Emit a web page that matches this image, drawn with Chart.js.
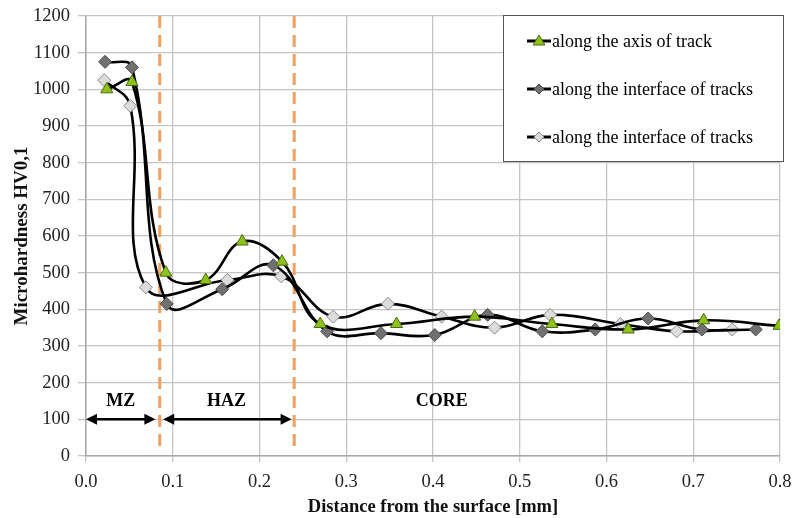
<!DOCTYPE html>
<html>
<head>
<meta charset="utf-8">
<script src="https://cdn.jsdelivr.net/npm/chart.js@4.4.1/dist/chart.umd.min.js"></script>
<style>
html,body{margin:0;padding:0;background:#fff;overflow:hidden;}
#wrap{position:relative;width:792px;height:518px;}
</style>
</head>
<body>
<div id="wrap"><canvas id="c"></canvas></div>
<script>
// ---- data ----
const seriesNames = ["along the axis of track", "along the interface of tracks", "along the interface of tracks"];
const axisX = [0.024, 0.053, 0.092, 0.138, 0.180, 0.226, 0.270, 0.358, 0.448, 0.537, 0.625, 0.712, 0.799];
const axisY = [1000, 1020, 500, 480, 585, 530, 360, 360, 380, 360, 345, 370, 355];
const iface1X = [0.022, 0.053, 0.093, 0.157, 0.216, 0.278, 0.340, 0.402, 0.463, 0.526, 0.587, 0.648, 0.710, 0.772];
const iface1Y = [1075, 1060, 415, 455, 520, 340, 335, 330, 385, 340, 345, 375, 345, 345];
const iface2X = [0.021, 0.051, 0.069, 0.163, 0.225, 0.285, 0.348, 0.410, 0.471, 0.535, 0.616, 0.681, 0.745];
const iface2Y = [1025, 955, 460, 480, 490, 380, 415, 380, 350, 385, 360, 340, 345];
const xRange = [0, 0.8], xStep = 0.1;
const yRange = [0, 1200], yStep = 100;
const zoneBoundaries = [0.085, 0.24];
const zoneArrows = [[0.0, 0.08], [0.089, 0.237]];
const arrowLevel = 100;
const zoneLabels = ["MZ", "HAZ", "CORE"];
const zoneLabelX = [0.04, 0.162, 0.41];
const zoneLabelY = 150;
const xTitle = "Distance from the surface [mm]";
const yTitle = "Microhardness HV0,1";

const pts = (xs, ys) => xs.map((x, i) => ({x: x, y: ys[i]}));

const SERIF = "'Liberation Serif', 'Times New Roman', serif";
const styles = [
  {pointStyle: 'triangle', bg: '#8cc21a', border: '#4d6b10', radius: 7},
  {pointStyle: 'rectRot', bg: '#707070', border: '#4a4a4a', radius: 6.5},
  {pointStyle: 'rectRot', bg: '#dcdcdc', border: '#8a8a8a', radius: 6.5}
];
const seriesData = [pts(axisX, axisY), pts(iface1X, iface1Y), pts(iface2X, iface2Y)];

const annotPlugin = {
  id: 'annot',
  beforeDatasetsDraw(chart) {
    const {ctx, chartArea: a, scales: {x, y}} = chart;
    ctx.save();
    // dashed orange zone boundaries
    ctx.strokeStyle = '#f4a05c';
    ctx.lineWidth = 3;
    ctx.setLineDash([12, 7]);
    zoneBoundaries.forEach(v => {
      const px = x.getPixelForValue(v);
      ctx.beginPath();
      ctx.moveTo(px, a.top);
      ctx.lineTo(px, a.bottom - 4);
      ctx.stroke();
    });
    ctx.setLineDash([]);
    // arrows
    ctx.strokeStyle = '#000';
    ctx.fillStyle = '#000';
    ctx.lineWidth = 2.5;
    const py = y.getPixelForValue(arrowLevel);
    zoneArrows.forEach(([a0, a1]) => {
      const p0 = x.getPixelForValue(a0), p1 = x.getPixelForValue(a1);
      ctx.beginPath();
      ctx.moveTo(p0 + 8, py); ctx.lineTo(p1 - 8, py); ctx.stroke();
      ctx.beginPath();
      ctx.moveTo(p0, py); ctx.lineTo(p0 + 11, py - 5.5); ctx.lineTo(p0 + 11, py + 5.5); ctx.closePath(); ctx.fill();
      ctx.beginPath();
      ctx.moveTo(p1, py); ctx.lineTo(p1 - 11, py - 5.5); ctx.lineTo(p1 - 11, py + 5.5); ctx.closePath(); ctx.fill();
    });
    // zone labels
    ctx.font = "bold 18px " + SERIF;
    ctx.textAlign = 'center';
    ctx.textBaseline = 'middle';
    zoneLabels.forEach((t, i) => {
      ctx.fillText(t, x.getPixelForValue(zoneLabelX[i]), y.getPixelForValue(zoneLabelY));
    });
    ctx.restore();
  },
  afterDraw(chart) {
    const {ctx} = chart;
    // legend box
    const bx = 503, by = 15, bw = 280, bh = 146;
    ctx.save();
    ctx.fillStyle = '#fff';
    ctx.fillRect(bx, by, bw, bh);
    ctx.strokeStyle = '#555';
    ctx.lineWidth = 1;
    ctx.strokeRect(bx + 0.5, by + 0.5, bw, bh);
    const rows = [41, 89, 137];
    ctx.font = "18px " + SERIF;
    ctx.textBaseline = 'middle';
    ctx.textAlign = 'left';
    seriesNames.forEach((name, i) => {
      const yy = rows[i];
      ctx.strokeStyle = '#000';
      ctx.lineWidth = 3;
      ctx.beginPath(); ctx.moveTo(527, yy); ctx.lineTo(551, yy); ctx.stroke();
      const s = styles[i];
      ctx.fillStyle = s.bg; ctx.strokeStyle = s.border; ctx.lineWidth = 1;
      ctx.beginPath();
      if (s.pointStyle === 'triangle') {
        ctx.moveTo(539, yy - 6); ctx.lineTo(545, yy + 4); ctx.lineTo(533, yy + 4); ctx.closePath();
      } else {
        ctx.moveTo(539, yy - 5); ctx.lineTo(544, yy); ctx.lineTo(539, yy + 5); ctx.lineTo(534, yy); ctx.closePath();
      }
      ctx.fill(); ctx.stroke();
      ctx.fillStyle = '#000';
      ctx.fillText(name, 552, yy + 1);
    });
    ctx.restore();
  }
};

new Chart(document.getElementById('c'), {
  type: 'line',
  data: {
    datasets: seriesData.map((d, i) => ({
      label: seriesNames[i],
      data: d,
      borderColor: '#000',
      backgroundColor: styles[i].bg,
      borderWidth: 2.6,
      tension: 0.4,
      pointStyle: styles[i].pointStyle,
      pointRadius: styles[i].radius,
      pointBackgroundColor: styles[i].bg,
      pointBorderColor: styles[i].border,
      pointBorderWidth: 1,
      fill: false
    }))
  },
  options: {
    responsive: true,
    maintainAspectRatio: false,
    animation: false,
    devicePixelRatio: 1,
    layout: {padding: {top: 0, right: 0, left: 0, bottom: 0}},
    plugins: {legend: {display: false}, tooltip: {enabled: false}},
    scales: {
      x: {
        type: 'linear', min: xRange[0], max: xRange[1],
        afterFit: s => { s.height = 62; s.paddingRight = 12; },
        grid: {color: '#c4c4c4', lineWidth: 1.3, tickLength: 6, drawTicks: true},
        border: {color: '#a8a8a8', width: 1.5},
        ticks: {stepSize: xStep, color: '#222', font: {family: SERIF, size: 18.5}, padding: 9, maxRotation: 0,
          callback: v => Number(v).toFixed(1)},
        title: {display: true, text: xTitle, color: '#111', font: {family: SERIF, size: 18.5, weight: 'bold'}, padding: {top: 0, bottom: 0}}
      },
      y: {
        min: yRange[0], max: yRange[1],
        afterFit: s => { s.width = 86; s.paddingTop = 16; s.paddingBottom = 0; },
        grid: {color: '#c4c4c4', lineWidth: 1.3, tickLength: 8},
        border: {color: '#a8a8a8', width: 1.5},
        ticks: {stepSize: yStep, color: '#222', font: {family: SERIF, size: 18.5}, padding: 8,
          callback: v => String(v)},
        title: {display: true, text: yTitle, color: '#111', font: {family: SERIF, size: 19, weight: 'bold'}, padding: {top: 11, bottom: 0}}
      }
    }
  },
  plugins: [annotPlugin]
});
</script>
</body>
</html>
